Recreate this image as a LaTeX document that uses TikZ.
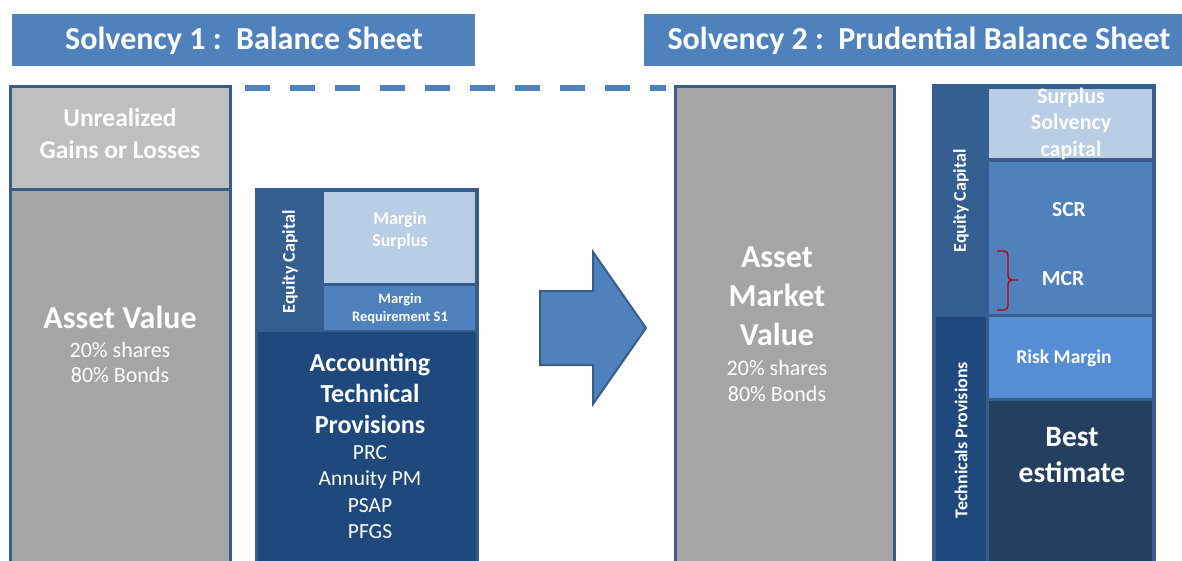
\documentclass[tikz,border=0pt]{standalone}
\usepackage{fontspec}
\setmainfont{Carlito}
\definecolor{tblue}{HTML}{4F81BD}
\definecolor{bord}{HTML}{385D8A}
\definecolor{grayL}{HTML}{BFBFBF}
\definecolor{grayM}{HTML}{A5A5A5}
\definecolor{eqcol}{HTML}{365F91}
\definecolor{lightb}{HTML}{B9CDE5}
\definecolor{accb}{HTML}{1F497D}
\definecolor{riskb}{HTML}{558ED5}
\definecolor{bestb}{HTML}{243F60}
\definecolor{bracered}{HTML}{C00000}
\newcommand\myfs[2]{\fontsize{#1}{#2}\selectfont}
\begin{document}
\begin{tikzpicture}[x=1pt,y=-1pt,
  blk/.style={anchor=north west, inner sep=0pt, outer sep=0pt, minimum width=#1},
  blk/.default=10pt,
  frame/.style={draw=bord, line width=3pt},
  lbl/.style={text=white, font=\bfseries, align=center, inner sep=0pt},
  reg/.style={text=white, align=center, inner sep=0pt},
  title/.style={fill=tblue, anchor=north west, inner sep=0pt, outer sep=0pt}
]
\useasboundingbox (0,0) rectangle (1182,561);
% titles
\node[title, minimum width=463pt, minimum height=52pt] (t1) at (12,14) {};
\node[lbl, font=\bfseries\myfs{32}{36}] (t1txt) at (244,41) {Solvency 1 :\ \ Balance Sheet};
\node[title, minimum width=545pt, minimum height=52pt] (t2) at (644,14) {};
\node[lbl, font=\bfseries\myfs{32}{36}] (t2txt) at (919,41) {Solvency 2 :\ \ Prudential Balance Sheet};
% dashed line
\coordinate (d1) at (245,88);
\coordinate (d2) at (666,88);
\draw[tblue, line width=6pt, dash pattern=on 25pt off 20pt] (d1) -- (d2);
% left column
\node[blk=220pt, minimum height=103pt, fill=grayL, frame] (ugl) at (10,87) {};
\node[blk=220pt, minimum height=380pt, fill=grayM, frame] (av) at (10,190) {};
\node[lbl, font=\bfseries\myfs{25.5}{32}] (ugltxt) at (120,134) {Unrealized\\Gains or Losses};
\node[lbl, font=\bfseries\myfs{32}{36}] (avtxt) at (120,317) {Asset Value};
\node[reg, font=\myfs{22}{25}] (avsub) at (120,362) {20\% shares\\80\% Bonds};
% middle column
\node[blk=221pt, minimum height=380pt, fill=bord, frame] (mid) at (256,190) {};
\node[blk=67pt, minimum height=142pt, fill=eqcol] (eqc) at (256,190) {};
\node[blk=151pt, minimum height=91pt, fill=lightb] (ms) at (324,192) {};
\node[blk=151pt, minimum height=44pt, fill=tblue] (mr) at (324,286) {};
\node[blk=221pt, minimum height=233pt, fill=accb] (atp) at (256,332) {};
\draw[bord, line width=3pt] (256,190) rectangle (477,570);
\node[lbl, font=\bfseries\myfs{18}{20}, rotate=90] (eqctxt) at (290,262) {Equity Capital};
\node[lbl, font=\bfseries\myfs{18}{22}] (mstxt) at (400,231) {Margin\\Surplus};
\node[lbl, font=\bfseries\myfs{14.5}{18}] (mrtxt) at (400,309) {Margin\\Requirement S1};
\node[lbl, font=\bfseries\myfs{26}{31}] (atptxt) at (370,393) {Accounting\\Technical\\Provisions};
\node[reg, font=\myfs{21.5}{26.3}] (atpsub) at (370,492) {PRC\\Annuity PM\\PSAP\\PFGS};
% arrow
\draw[fill=tblue, draw=bord, line width=2pt, line join=miter] (540,291) -- (593,291) -- (593,252) -- (646,328) -- (593,404) -- (593,365) -- (540,365) -- cycle;
% middle right
\node[blk=219pt, minimum height=483pt, fill=grayM, frame] (amv) at (675,87) {};
\node[lbl, font=\bfseries\myfs{32}{39}] (amvtxt) at (777,296) {Asset\\Market\\Value};
\node[reg, font=\myfs{22}{26}] (amvsub) at (777,381) {20\% shares\\80\% Bonds};
% right column
\node[blk=221pt, minimum height=484pt, fill=bord] (rc) at (933,86) {};
\node[blk=55pt, minimum height=229pt, fill=eqcol] (eqc2) at (933,86) {};
\node[blk=50pt, minimum height=250pt, fill=accb] (tp) at (936,317) {};
\node[blk=163pt, minimum height=69pt, fill=lightb] (ssc) at (989,89) {};
\node[blk=163pt, minimum height=152pt, fill=tblue] (scr) at (989,162) {};
\node[blk=163pt, minimum height=81pt, fill=riskb] (rm) at (989,317) {};
\node[blk=163pt, minimum height=170pt, fill=bestb] (be) at (989,401) {};
\draw[bord, line width=3pt] (933,86) rectangle (1154,570);
\node[lbl, font=\bfseries\myfs{18}{20}, rotate=90] (eqc2txt) at (961,201) {Equity Capital};
\node[lbl, font=\bfseries\myfs{18}{20}, rotate=90] (tptxt) at (961,440) {Technicals Provisions};
\node[lbl, font=\bfseries\myfs{22}{26.5}] (ssctxt) at (1071,124) {Surplus\\Solvency\\capital};
\node[lbl, font=\bfseries\myfs{21.5}{24}] (scrtxt) at (1069,210) {SCR};
\node[lbl, font=\bfseries\myfs{21.5}{24}] (mcrtxt) at (1063,279) {MCR};
\node[lbl, font=\bfseries\myfs{19.5}{22}] (rmtxt) at (1064,358) {Risk Margin};
\node[lbl, font=\bfseries\myfs{29.5}{36}] (betxt) at (1072,455) {Best\\estimate};
% red brace
\draw[bracered, line width=1.3pt] (997,251) -- (1004,251) to[out=0,in=90] (1008,255) -- (1008,276) to[out=-90,in=180] (1012,280) -- (1018,280);
\draw[bracered, line width=1.3pt] (1012,280) to[out=180,in=90] (1008,284) -- (1008,306) to[out=-90,in=0] (1004,310) -- (997,310);
\end{tikzpicture}
\end{document}
